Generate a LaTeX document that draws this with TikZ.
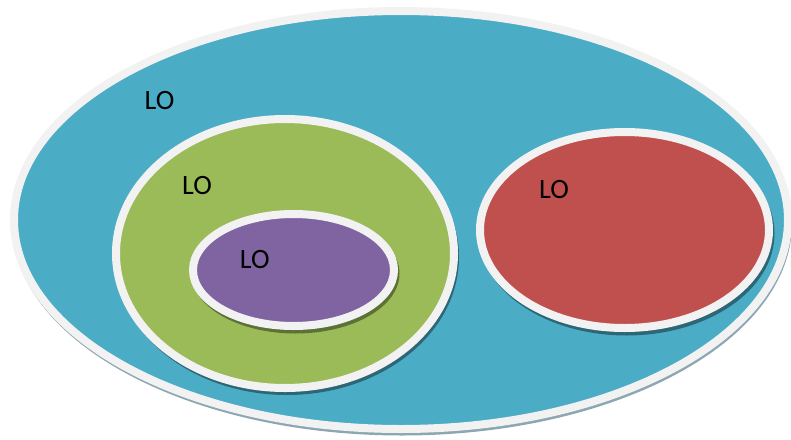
\documentclass[tikz,border=0pt]{standalone}
\usepackage{fontspec}
\setmainfont{Carlito}
\definecolor{cblue}{HTML}{4BACC6}
\definecolor{cgreen}{HTML}{9BBB59}
\definecolor{cpurple}{HTML}{8064A2}
\definecolor{cred}{HTML}{C0504D}
\definecolor{cborder}{HTML}{F2F2F2}
\definecolor{cshadow}{HTML}{8DA7B2}
\tikzset{
  disc/.style={draw=cborder, line width=8pt},
  shade/.style={fill=black, fill opacity=0.4},
  lbl/.style={inner sep=0pt, font=\fontsize{28}{30}\selectfont, text=black}
}
\begin{document}
\begin{tikzpicture}[x=1pt, y=-1pt]
\useasboundingbox (0,0) rectangle (791,439);
% outer blue
\fill[cshadow] (402,223.5) ellipse [x radius=390, y radius=212];
\draw[disc, fill=cblue] (401,220) ellipse [x radius=387, y radius=209];
% green
\fill[shade] (287,257) ellipse [x radius=172, y radius=138];
\draw[disc, fill=cgreen] (285,253.5) ellipse [x radius=169, y radius=134.5];
% purple
\fill[shade] (295.5,273.5) ellipse [x radius=104, y radius=60];
\draw[disc, fill=cpurple] (293.5,270) ellipse [x radius=100.5, y radius=56];
% red
\fill[shade] (626.5,233.5) ellipse [x radius=148, y radius=102];
\draw[disc, fill=cred] (624.5,230) ellipse [x radius=144.5, y radius=98];
% labels
\node[lbl] (lblue) at (159.5,100.3) {LO};
\node[lbl] (lgreen) at (197,186) {LO};
\node[lbl] (lpurple) at (254.7,259.5) {LO};
\node[lbl] (lred) at (554,189.7) {LO};
\end{tikzpicture}
\end{document}
